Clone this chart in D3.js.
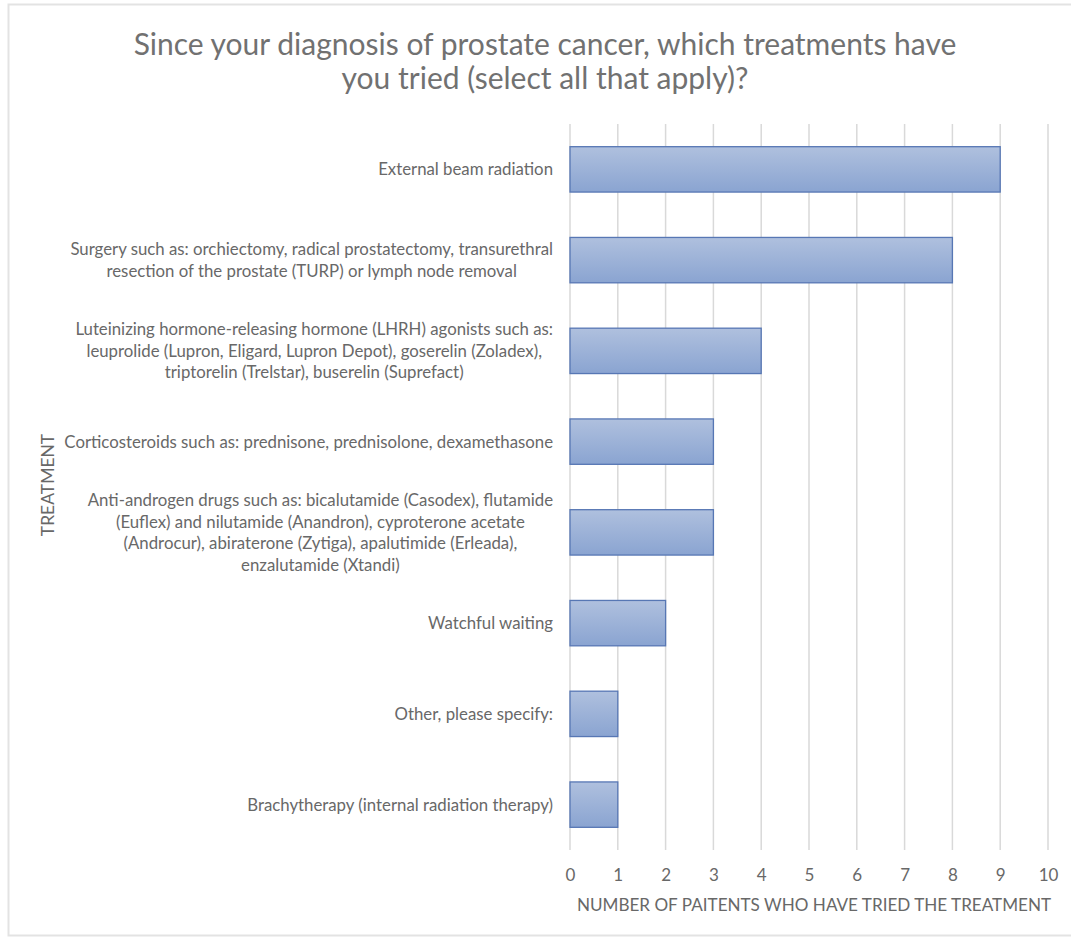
<!DOCTYPE html>
<html lang="en">
<head>
  <meta charset="utf-8">
  <title>Prostate cancer treatments tried</title>
  <script src="https://cdn.jsdelivr.net/npm/d3@7"></script>
  <style>
    body { margin: 0; background: #fff; font-family: Lato, "Open Sans", sans-serif; }
    svg text { fill: #686868; }
  </style>
</head>
<body>
  <svg id="chart" width="1071" height="941"></svg>

  <script>
    // Treatments (line breaks as they wrap in the chart)
    const treatments = [
      "External beam radiation",
      "Surgery such as: orchiectomy, radical prostatectomy, transurethral\nresection of the prostate (TURP) or lymph node removal",
      "Luteinizing hormone-releasing hormone (LHRH) agonists such as:\nleuprolide (Lupron, Eligard, Lupron Depot), goserelin (Zoladex),\ntriptorelin (Trelstar), buserelin (Suprefact)",
      "Corticosteroids such as: prednisone, prednisolone, dexamethasone",
      "Anti-androgen drugs such as: bicalutamide (Casodex), flutamide\n(Euflex) and nilutamide (Anandron), cyproterone acetate\n(Androcur), abiraterone (Zytiga), apalutimide (Erleada),\nenzalutamide (Xtandi)",
      "Watchful waiting",
      "Other, please specify:",
      "Brachytherapy (internal radiation therapy)"
    ];
    const patients = [9, 8, 4, 3, 3, 2, 1, 1];
    const xTicks = [0, 1, 2, 3, 4, 5, 6, 7, 8, 9, 10];

    const titleLines = [
      "Since your diagnosis of prostate cancer, which treatments have",
      "you tried (select all that apply)?"
    ];
    const xTitle = "NUMBER OF PAITENTS WHO HAVE TRIED THE TREATMENT";
    const yTitle = "TREATMENT";

    const svg = d3.select("#chart");
    const margin = { top: 124, right: 23, bottom: 91, left: 570 };
    const width = 1071, height = 941;

    // outer frame
    svg.append("rect")
      .attr("x", 8.5).attr("y", 4.5)
      .attr("width", 1075).attr("height", 931)
      .attr("fill", "#fff")
      .attr("stroke", "#e3e3e3")
      .attr("stroke-width", 2);

    const x = d3.scaleLinear()
      .domain([0, 10])
      .range([margin.left, 1048]);

    const y = d3.scaleBand()
      .domain(treatments)
      .range([margin.top, height - margin.bottom])
      .paddingInner(0.5)
      .paddingOuter(0.25);

    // bar fill gradient
    const grad = svg.append("defs").append("linearGradient")
      .attr("id", "barFill")
      .attr("x1", 0).attr("y1", 0).attr("x2", 0).attr("y2", 1);
    grad.append("stop").attr("offset", "0%").attr("stop-color", "#afc0de");
    grad.append("stop").attr("offset", "100%").attr("stop-color", "#8aa4d1");

    // vertical gridlines
    svg.append("g")
      .selectAll("line")
      .data(xTicks)
      .join("line")
        .attr("x1", d => x(d)).attr("x2", d => x(d))
        .attr("y1", margin.top).attr("y2", height - margin.bottom)
        .attr("stroke", "#d9d9d9")
        .attr("stroke-width", 1.5);

    // bars
    svg.append("g")
      .selectAll("rect")
      .data(treatments)
      .join("rect")
        .attr("x", x(0))
        .attr("y", d => y(d))
        .attr("width", (d, i) => x(patients[i]) - x(0))
        .attr("height", y.bandwidth())
        .attr("fill", "url(#barFill)")
        .attr("stroke", "#5777b4")
        .attr("stroke-width", 1.3);

    // x axis tick labels
    const xAxis = svg.append("g")
      .attr("transform", `translate(0,${height - margin.bottom})`)
      .call(d3.axisBottom(x).tickValues(xTicks).tickSize(0).tickPadding(19));
    xAxis.select(".domain").remove();
    xAxis.selectAll("text")
      .attr("font-size", 17)
      .attr("font-family", "Lato, sans-serif")
      .style("fill", "#686868");

    // category labels: block right-aligned, lines centred within it
    const labelRight = 553;
    const lineH = 21.5;
    const labels = svg.append("g")
      .attr("font-size", 16.8)
      .selectAll("g")
      .data(treatments)
      .join("g");
    labels.each(function(d) {
      const g = d3.select(this);
      const lines = d.split("\n");
      const texts = g.selectAll("text")
        .data(lines)
        .join("text")
          .attr("text-anchor", "middle")
          .attr("dy", "0.35em")
          .text(l => l);
      const maxW = d3.max(texts.nodes(), n => n.getComputedTextLength());
      const cy = y(d) + y.bandwidth() / 2;
      texts
        .attr("x", labelRight - maxW / 2)
        .attr("y", (l, i) => cy + (i - (lines.length - 1) / 2) * lineH);
    });

    // title
    svg.append("g")
      .selectAll("text")
      .data(titleLines)
      .join("text")
        .attr("x", 545)
        .attr("y", (d, i) => 55 + i * 34)
        .attr("text-anchor", "middle")
        .attr("font-size", 30)
        .style("fill", "#717171")
        .text(d => d);

    // axis titles
    svg.append("text")
      .attr("x", 814)
      .attr("y", 911)
      .attr("text-anchor", "middle")
      .attr("font-size", 17.1)
      .text(xTitle);

    svg.append("text")
      .attr("transform", `translate(54,${485}) rotate(-90)`)
      .attr("text-anchor", "middle")
      .attr("font-size", 17.5)
      .text(yTitle);
  </script>
</body>
</html>
